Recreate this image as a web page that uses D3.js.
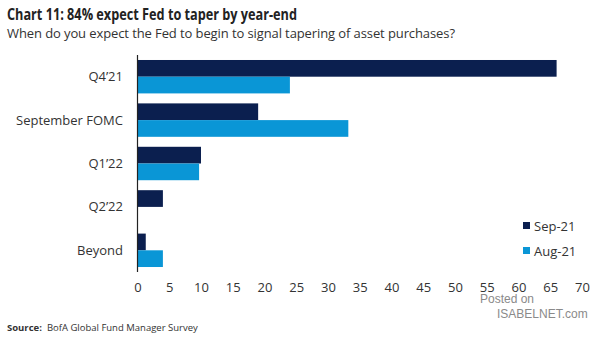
<!DOCTYPE html>
<html>
<head>
<meta charset="utf-8">
<script src="https://cdn.jsdelivr.net/npm/d3@7"></script>
<style>
  body { margin: 0; background: #fff; }
  svg { display: block; }
  text { font-family: "Open Sans", "Noto Sans", sans-serif; }
</style>
</head>
<body>
<svg id="chart" width="605" height="341"></svg>
<script>
// data
var categories = ["Q4\u201921", "September FOMC", "Q1\u201922", "Q2\u201922", "Beyond"]
var series = ["Sep-21", "Aug-21"]
var sep21 = [66, 19, 10, 4, 1.3]
var aug21 = [24, 33.2, 9.7, 0, 4]
var ticks = [0, 5, 10, 15, 20, 25, 30, 35, 40, 45, 50, 55, 60, 65, 70]

var COLORS = ["#0b1f4f", "#0a96d6"]
var TXT = "#333"

var svg = d3.select("#chart")

// title + subtitle
svg.append("text").attr("x", 7).attr("y", 20)
    .style("font-weight", "bold").style("font-size", "16px").attr("fill", "#222")
    .attr("textLength", 290).attr("lengthAdjust", "spacingAndGlyphs")
    .text("Chart 11: 84% expect Fed to taper by year-end")
svg.append("text").attr("x", 7).attr("y", 38)
    .style("font-size", "13px").attr("fill", "#333")
    .attr("textLength", 448)
    .text("When do you expect the Fed to begin to signal tapering of asset purchases?")

var x = d3.scaleLinear().domain([0, 70]).range([137.5, 582])
var y = d3.scaleBand().domain(categories).range([55, 272]).paddingInner(0.23).paddingOuter(0.115)
var y1 = d3.scaleBand().domain(series).range([0, y.bandwidth()])

var rows = categories.map((c, i) => ({cat: c, vals: [sep21[i], aug21[i]]}))

var g = svg.append("g")
g.selectAll("g.grp").data(rows).join("g").attr("class", "grp")
    .attr("transform", d => "translate(0," + y(d.cat) + ")")
    .selectAll("rect").data(d => d.vals.map((v, j) => ({s: series[j], v: v, j: j})))
    .join("rect")
    .attr("x", x(0))
    .attr("y", d => y1(d.s))
    .attr("width", d => x(d.v) - x(0))
    .attr("height", y1.bandwidth())
    .attr("fill", d => COLORS[d.j])

// category labels
g.selectAll("text.cat").data(categories).join("text").attr("class", "cat")
    .attr("x", 123).attr("y", d => y(d) + y.bandwidth() / 2)
    .attr("dy", "0.35em").attr("text-anchor", "end")
    .style("font-size", "13px").attr("fill", TXT)
    .text(d => d)

// vertical axis line
svg.append("line").attr("x1", x(0)).attr("x2", x(0)).attr("y1", 55).attr("y2", 272)
    .attr("stroke", "#222").attr("stroke-width", 1.2)

// x axis labels (no line)
var xAxis = d3.axisBottom(x).tickValues(ticks).tickSize(0).tickPadding(0)
var ax = svg.append("g").attr("transform", "translate(0,283)").call(xAxis)
ax.select(".domain").remove()
ax.selectAll("text").style("font-size", "13px").attr("fill", TXT)
    .style("font-family", "'Open Sans',sans-serif")

// legend
var leg = svg.append("g").attr("transform", "translate(523,222)")
series.forEach((s, i) => {
    leg.append("rect").attr("x", 0).attr("y", i * 25).attr("width", 7).attr("height", 7).attr("fill", COLORS[i])
    leg.append("text").attr("x", 11).attr("y", i * 25 + 4).attr("dy", "0.35em")
        .style("font-size", "13px").attr("fill", TXT).text(s)
})

// watermark
svg.append("text").attr("x", 480).attr("y", 303)
    .style("font-family", "'Liberation Sans',Arial,sans-serif").style("font-size", "12px")
    .attr("fill", "#8a8a8a").text("Posted on")
svg.append("text").attr("x", 497).attr("y", 318)
    .style("font-family", "'Liberation Sans',Arial,sans-serif").style("font-size", "12px")
    .attr("fill", "#8a8a8a").text("ISABELNET.com")

// source
var src = svg.append("text").attr("x", 7).attr("y", 331).style("font-size", "9.5px").attr("fill", "#333")
src.append("tspan").style("font-weight", "bold").text("Source:")
src.append("tspan").attr("dx", 5).text("BofA Global Fund Manager Survey")
</script>
</body>
</html>
